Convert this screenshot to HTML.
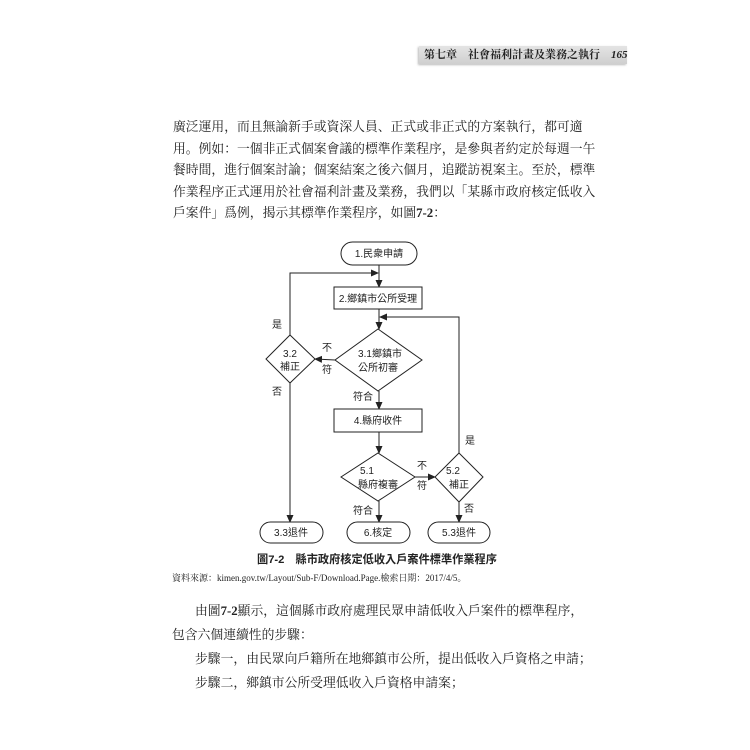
<!DOCTYPE html>
<html><head><meta charset="utf-8"><style>
body{margin:0;background:#fff;}
#p{position:relative;width:750px;height:750px;overflow:hidden;background:#fff;font-family:"Liberation Serif","Noto Serif CJK SC",serif;color:#222;}
.t{position:absolute;white-space:nowrap;font-size:12.8px;line-height:16px;}
</style></head><body><div id="p">
<div style="position:absolute;left:419px;top:46px;width:208px;height:18px;background:linear-gradient(#e4e4e4,#cfcfcf);box-shadow:-1px 1px 2px #bbb;"></div>
<div class="t" style="left:424px;top:47px;font-size:11px;font-weight:bold;">第七章　社會福利計畫及業務之執行　<i>165</i></div>

<div class="t" style="left:173px;top:119px;">廣泛運用，而且無論新手或資深人員、正式或非正式的方案執行，都可適</div>
<div class="t" style="left:173px;top:141px;">用。例如：一個非正式個案會議的標準作業程序，是參與者約定於每週一午</div>
<div class="t" style="left:173px;top:162px;">餐時間，進行個案討論；個案結案之後六個月，追蹤訪視案主。至於，標準</div>
<div class="t" style="left:173px;top:184px;">作業程序正式運用於社會福利計畫及業務，我們以「某縣市政府核定低收入</div>
<div class="t" style="left:173px;top:205px;">戶案件」爲例，揭示其標準作業程序，如圖<b>7-2</b>：</div>

<svg style="position:absolute;left:0;top:0" width="750" height="750" font-family="Liberation Sans,Noto Sans CJK TC,sans-serif" font-size="10" fill="#222">
<defs><marker id="a" markerWidth="8" markerHeight="8" refX="7" refY="4" orient="auto" markerUnits="userSpaceOnUse"><path d="M0,0.5L8,4L0,7.5z" fill="#222"/></marker></defs>
<g stroke="#222" stroke-width="1" fill="none">
<rect x="341" y="242" width="76" height="23" rx="11.5" fill="#fff"/>
<line x1="379" y1="265" x2="379" y2="287" marker-end="url(#a)"/>
<rect x="334" y="287" width="88" height="22" fill="#fff"/>
<polyline points="290,335 290,273 378,273" marker-end="url(#a)"/>
<line x1="379" y1="309" x2="379" y2="329" marker-end="url(#a)"/>
<polyline points="459,453 459,317 380,317" marker-end="url(#a)"/>
<polygon points="378,329 422,360 378,391 335,360" fill="#fff"/>
<polygon points="290,335 315,359 290,383 266,359" fill="#fff"/>
<line x1="335" y1="360" x2="315" y2="359" marker-end="url(#a)"/>
<line x1="379" y1="391" x2="379" y2="409" marker-end="url(#a)"/>
<rect x="334" y="409" width="88" height="23" fill="#fff"/>
<line x1="379" y1="432" x2="379" y2="453" marker-end="url(#a)"/>
<polygon points="378,453 415,477 378,501 341,477" fill="#fff"/>
<polygon points="459,453 483,477 459,502 435,477" fill="#fff"/>
<line x1="415" y1="477" x2="435" y2="477" marker-end="url(#a)"/>
<line x1="290" y1="383" x2="290" y2="522" marker-end="url(#a)"/>
<line x1="379" y1="501" x2="379" y2="522" marker-end="url(#a)"/>
<line x1="459" y1="502" x2="459" y2="522" marker-end="url(#a)"/>
<rect x="260" y="522" width="63" height="21" rx="10.5" fill="#fff"/>
<rect x="347" y="522" width="63" height="21" rx="10.5" fill="#fff"/>
<rect x="428" y="522" width="62" height="21" rx="10.5" fill="#fff"/>
</g>
<g text-anchor="middle">
<text x="379" y="257">1.民衆申請</text>
<text x="378" y="302">2.鄉鎮市公所受理</text>
<text x="380" y="357">3.1鄉鎮市</text>
<text x="378" y="371">公所初審</text>
<text x="290" y="357">3.2</text>
<text x="290" y="370">補正</text>
<text x="277" y="328">是</text>
<text x="327" y="351">不</text>
<text x="327" y="373">符</text>
<text x="277" y="395">否</text>
<text x="363" y="400">符合</text>
<text x="378" y="424">4.縣府收件</text>
<text x="367" y="474">5.1</text>
<text x="378" y="488">縣府複審</text>
<text x="453" y="474">5.2</text>
<text x="459" y="488">補正</text>
<text x="470" y="444">是</text>
<text x="422" y="469">不</text>
<text x="422" y="489">符</text>
<text x="363" y="514">符合</text>
<text x="469" y="512">否</text>
<text x="291" y="536">3.3退件</text>
<text x="378" y="536">6.核定</text>
<text x="459" y="536">5.3退件</text>
</g>
<text x="257" y="563" font-size="11.2" font-weight="bold">圖7-2　縣市政府核定低收入戶案件標準作業程序</text>
</svg>

<div class="t" style="left:172px;top:573px;font-size:9px;line-height:11px;">資料來源：kimen.gov.tw/Layout/Sub-F/Download.Page.檢索日期：2017/4/5。</div>
<div class="t" style="left:195px;top:603px;">由圖<b>7-2</b>顯示，這個縣市政府處理民眾申請低收入戶案件的標準程序，</div>
<div class="t" style="left:172px;top:627px;">包含六個連續性的步驟：</div>
<div class="t" style="left:195px;top:651px;">步驟一，由民眾向戶籍所在地鄉鎮市公所，提出低收入戶資格之申請；</div>
<div class="t" style="left:195px;top:675px;">步驟二，鄉鎮市公所受理低收入戶資格申請案；</div>
</div></body></html>
